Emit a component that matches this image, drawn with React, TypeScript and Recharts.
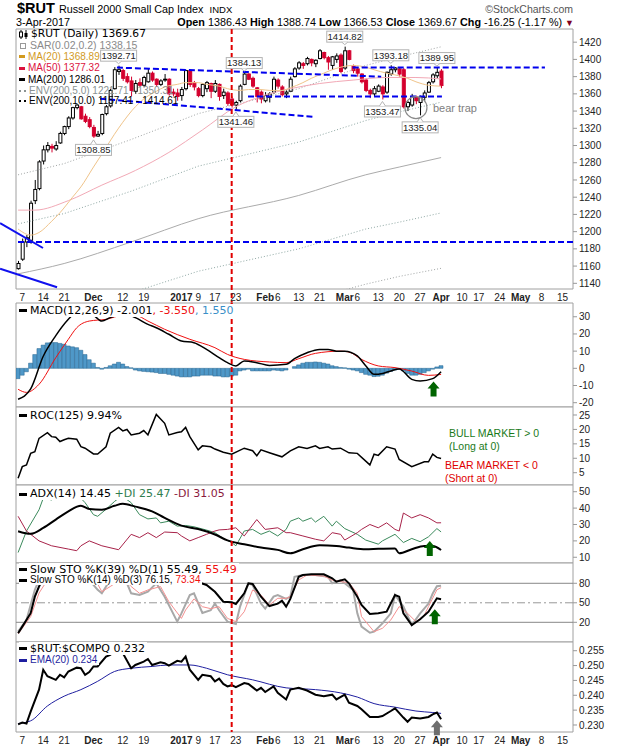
import React from 'react'
import {
  ComposedChart, Bar, Line, XAxis, YAxis,
  ReferenceLine, ReferenceArea, ReferenceDot,
} from 'recharts'

type Pt = [number, number]

// $RUT daily candles, 4-Nov-2016 .. 3-Apr-2017 (index = trading day)
const OPEN = [
  1157, 1168, 1188, 1190, 1236, 1250, 1282, 1295, 1299, 1296, 1303, 1314, 1322, 1332, 1344, 1345, 1334, 1330, 1321, 1311,
  1314, 1337, 1346, 1366, 1386, 1387, 1380, 1375, 1363, 1373, 1370, 1374, 1384, 1377, 1371, 1376, 1377, 1362, 1361, 1358,
  1366, 1387, 1373, 1366, 1358, 1366, 1372, 1363, 1371, 1358, 1361, 1354, 1347, 1352, 1371, 1383, 1378, 1367, 1362, 1352,
  1356, 1362, 1376, 1368, 1360, 1363, 1380, 1390, 1395, 1395, 1400, 1395, 1401, 1408, 1402, 1393, 1400, 1405, 1390, 1410,
  1392, 1389, 1383, 1376, 1364, 1360, 1363, 1368, 1362, 1383, 1388, 1389, 1388, 1345, 1347, 1356, 1350, 1356, 1362, 1374,
  1381, 1386.43,
]
const HIGH = [
  1166, 1192, 1196, 1236, 1260, 1283, 1300, 1304, 1302, 1305, 1316, 1323, 1334, 1345, 1348, 1346, 1337, 1333, 1324, 1317,
  1337, 1347, 1366, 1391, 1392.71, 1389, 1384, 1380, 1376, 1378, 1381, 1390, 1386, 1378, 1377, 1383, 1378, 1366, 1366, 1368,
  1388, 1388, 1375, 1368, 1372, 1375, 1373, 1376, 1372, 1366, 1363, 1357, 1352, 1371, 1384.13, 1384, 1380, 1368, 1364, 1362,
  1362, 1380, 1378, 1370, 1364, 1380, 1391, 1398, 1397, 1403, 1401, 1400, 1412, 1409, 1404, 1404, 1407, 1407, 1414.82, 1411,
  1394, 1390, 1384, 1378, 1366, 1369, 1371, 1370, 1386, 1393.18, 1391, 1391, 1390, 1352, 1360, 1358, 1358, 1364, 1375, 1384,
  1389.95, 1388.74,
]
const LOW = [
  1156, 1166, 1182, 1186, 1232, 1248, 1278, 1292, 1292, 1294, 1302, 1312, 1319, 1330, 1342, 1330, 1326, 1320, 1308.85, 1310,
  1312, 1335, 1344, 1365, 1382, 1375, 1372, 1357, 1360, 1368, 1368, 1373, 1374, 1368, 1369, 1374, 1358, 1357, 1352, 1352,
  1364, 1368, 1364, 1356, 1356, 1362, 1355, 1361, 1352, 1354, 1346, 1344, 1341.46, 1350, 1370, 1376, 1367, 1350, 1349, 1350,
  1350, 1360, 1366, 1357, 1355, 1362, 1379, 1388, 1389, 1393, 1392, 1391, 1400, 1400, 1388, 1388, 1396, 1384, 1388, 1399,
  1384, 1380, 1372, 1362, 1355, 1357, 1362, 1353.47, 1360, 1381, 1385, 1380, 1343, 1340, 1345, 1348, 1335.04, 1352, 1361, 1372,
  1378, 1366.53,
]
const CLOSE = [
  1163, 1188, 1193, 1233, 1249, 1281, 1295, 1300, 1297, 1300, 1314, 1322, 1332, 1344, 1347, 1331, 1328, 1322, 1311, 1313,
  1336, 1345, 1364, 1388, 1388, 1378, 1374, 1364, 1372, 1370, 1379, 1384, 1376, 1371, 1375, 1377, 1360, 1360, 1357, 1365,
  1387, 1371, 1368, 1358, 1371, 1373, 1363, 1372, 1357, 1362, 1349, 1347, 1350, 1369, 1383, 1377, 1369, 1357, 1354, 1358,
  1360, 1377, 1369, 1359, 1362, 1377, 1389, 1396, 1393, 1401, 1396, 1399, 1410, 1402, 1397, 1403, 1404, 1386, 1410, 1400,
  1387, 1384, 1374, 1364, 1360, 1366, 1369, 1360, 1385, 1388, 1390, 1383, 1345, 1350, 1357, 1352, 1356, 1361, 1373, 1382,
  1385, 1369.67,
]

// overlays read at intervals: [trading day, value]
const MA20: Pt[] = [[0, 1203], [3, 1196], [5, 1199], [8, 1212], [10, 1222], [13, 1240], [15, 1252], [18, 1275], [20, 1290], [23, 1313], [25, 1327], [28, 1345], [30, 1354], [33, 1363], [35, 1368], [38, 1371], [40, 1373], [43, 1373], [45, 1371], [48, 1369], [50, 1366], [53, 1364], [55, 1365], [58, 1365], [60, 1364], [63, 1364], [65, 1367], [68, 1373], [70, 1378], [73, 1384], [75, 1388], [78, 1392], [80, 1393], [83, 1391], [85, 1388], [88, 1384], [90, 1382], [93, 1378], [95, 1374], [98, 1370], [101, 1368.89]]
const MA50: Pt[] = [[0, 1225], [4, 1225], [12, 1236], [20, 1254], [28, 1271], [36, 1292], [44, 1318], [52, 1345], [58, 1357], [65, 1366], [72, 1372], [80, 1376], [88, 1379], [95, 1379], [101, 1377.32]]
const MA200: Pt[] = [[0, 1151], [11, 1163], [27, 1188], [43, 1215], [67, 1242], [83, 1266], [91, 1275], [101, 1286.01]]
const ENV5_UP: Pt[] = [[0, 1209], [11, 1221], [27, 1247], [43, 1276], [67, 1304], [83, 1329], [91, 1339], [101, 1350.31]]
const ENV5_LO: Pt[] = [[0, 1093], [11, 1105], [27, 1129], [43, 1154], [67, 1180], [83, 1203], [91, 1211], [101, 1221.71]]
const ENV10_UP: Pt[] = [[0, 1266], [11, 1279], [27, 1307], [43, 1337], [67, 1366], [83, 1393], [91, 1403], [101, 1414.61]]
const ENV10_LO: Pt[] = [[0, 1036], [11, 1047], [27, 1069], [43, 1094], [67, 1118], [83, 1139], [91, 1148], [101, 1157.41]]

const MACD: Pt[] = [[0, -18], [3, -12], [6, 7], [9, 19], [12, 28.5], [14, 33], [16, 34], [18, 31], [20, 27.5], [22, 29.5], [26, 31.4], [28, 29.5], [31, 25.6], [33, 23.6], [36, 19.8], [39, 15.9], [42, 14.9], [45, 11], [48, 6.2], [50, 3.3], [52, 1.4], [54, 4.3], [57, 3.3], [60, 1.7], [64, 2.3], [66, 5.6], [69, 9.1], [72, 11], [74, 11], [76, 10], [78, 10], [81, 7.2], [83, 1.5], [85, -3.5], [87, -3], [89, -1.5], [91, -0.4], [94, -6.4], [96, -7.4], [99, -6], [101, -2.001]]
const MACD_SIGNAL: Pt[] = [[0, -12.2], [2, -14], [5, -9.3], [9, 6.2], [12, 16.9], [14, 23.6], [17, 27.5], [21, 28.5], [25, 30.8], [28, 30.8], [31, 27.5], [35, 22.7], [41, 16.9], [47, 12], [50, 8.1], [54, 5.2], [60, 3.7], [64, 3.3], [67, 5.6], [71, 8.7], [77, 10], [79, 9.5], [82, 5.2], [86, 1.4], [90, 0.4], [94, -1.6], [98, -4.1], [101, -3.55]]
const MACD_HIST = [
  -6, -4, -2, 3, 8, 11.5, 13.5, 14.8, 15, 15, 14.5, 14, 13, 12.5, 12, 10.5, 8, 5, 3, 0.5,
  -0.5, 0.5, 1.5, 2.5, 3.5, 2.5, 1, 0.3, -1, -1.5, -1.8, -2, -2.2, -2.5, -3, -3, -3.5, -4, -4.5, -5,
  -5, -5, -4.5, -4.5, -4, -4, -4, -4.5, -4.5, -5, -5, -4.5, -4, -1.5, -1, -0.5, -1.5, -1.5, -1.5, -1.5,
  -1.5, -1, -1.2, -1.5, -1, 0, 1, 2, 3, 3.5, 3.5, 3.7, 3.5, 3, 2.5, 1.5, 1, 0.5, 0.3, -0.5,
  -1, -1.5, -2.5, -3.5, -4, -4.8, -4.6, -4, -2.8, -1.8, -1, -0.5, -1.5, -3, -4, -4, -3.5, -2.5, -1.5, -0.5,
  0.8, 1.55,
]

const ROC: Pt[] = [[0, 3.1], [1, 7.1], [2, 7.7], [3, 11.7], [4, 12.3], [5, 16.9], [7, 18.9], [8, 17.5], [9, 17.3], [10, 15.8], [11, 16.4], [12, 16.9], [14, 16.6], [15, 14], [16, 13.5], [18, 11.5], [19, 11.5], [21, 14], [22, 18.7], [24, 20.7], [25, 19.5], [26, 20], [27, 18.1], [29, 18.7], [30, 19.6], [31, 18.1], [33, 25.2], [35, 22.1], [36, 18.1], [38, 18.9], [39, 19.2], [40, 20.7], [41, 17.5], [43, 12.9], [44, 14.3], [46, 14], [47, 13.2], [49, 12.1], [51, 11.4], [54, 13.5], [56, 12.6], [57, 10.9], [58, 12.9], [60, 11.9], [63, 10.5], [65, 12.6], [67, 14], [69, 13.4], [71, 14.3], [72, 13.4], [74, 14], [75, 13.2], [77, 13.5], [79, 11.9], [81, 11.7], [84, 7.7], [85, 11.4], [86, 11], [88, 14], [90, 13.2], [91, 9.6], [94, 7.1], [97, 8.8], [98, 8.8], [99, 11.4], [100, 10.3], [101, 9.94]]

const ADX: Pt[] = [[0, 25.9], [3, 24.3], [6, 27.9], [9, 33], [12, 38], [15, 41.4], [17, 39.4], [20, 39], [23, 41.4], [25, 42.6], [28, 40.9], [32, 38], [35, 34], [39, 29.3], [43, 27.2], [47, 23.9], [50, 20.3], [54, 17.9], [58, 15.9], [62, 14.5], [65, 12.4], [68, 14.9], [72, 17.3], [76, 16.9], [79, 15.9], [83, 14.9], [86, 15.2], [90, 15.4], [91, 12.4], [94, 14.9], [97, 16.9], [99, 16.9], [101, 14.45]]
const PLUS_DI: Pt[] = [[0, 12.9], [2, 26], [5, 39], [6, 46], [8, 45], [9, 46.9], [11, 47.3], [13, 49], [15, 46], [16, 43.3], [18, 36], [19, 35], [21, 39.3], [23, 44], [24, 46], [25, 47], [27, 43.3], [29, 36], [31, 33.4], [33, 34], [34, 31], [36, 32], [38, 29], [40, 29.4], [42, 28.6], [45, 26.6], [47, 25], [49, 21.5], [51, 19], [52, 17], [54, 26], [56, 27], [58, 24], [60, 26], [62, 23], [64, 27], [65, 32], [67, 34], [68, 32], [70, 34], [71, 31.5], [73, 35], [75, 29], [76, 32], [78, 27.5], [81, 24], [83, 20.5], [86, 18], [87, 20], [90, 24], [92, 19], [94, 21.5], [96, 19.5], [98, 22.5], [100, 27.5], [101, 25.47]]
const MINUS_DI: Pt[] = [[0, 35], [2, 26], [5, 20], [8, 17], [12, 15], [14, 14], [15, 17], [17, 20], [20, 17], [24, 14.6], [27, 24], [29, 22], [31, 25], [33, 22], [35, 25.4], [38, 25], [39, 23], [41, 20], [43, 22], [45, 24], [47, 26], [48, 26.7], [50, 27], [52, 28], [54, 23], [57, 33], [59, 27], [62, 28], [64, 25], [65, 25], [68, 23], [71, 21], [73, 20], [75, 25], [77, 24], [78, 20.5], [81, 25], [82, 27], [84, 30], [86, 28], [88, 31], [90, 27], [91, 26], [92, 37], [94, 34], [96, 36], [98, 34], [100, 31], [101, 31.05]]

const STO_K39: Pt[] = [[0, 3.1], [1, 13.3], [3, 34], [4, 59.4], [5, 75], [6, 88], [8, 95], [12, 98], [20, 96], [30, 97], [38, 92], [42, 84], [45, 77.4], [47, 67], [49, 51.7], [51, 50.9], [52, 48.2], [54, 64.6], [55, 80], [56, 79], [58, 59.4], [60, 45], [62, 48.6], [63, 53.3], [64, 44], [65, 56], [67, 90], [68, 92.8], [70, 93.8], [73, 93.8], [75, 87.7], [76, 82.5], [78, 86], [79, 80], [81, 59.4], [82, 46.6], [84, 32.8], [86, 33.8], [88, 36.3], [90, 62], [91, 59.4], [92, 33.8], [94, 15.8], [96, 24.6], [98, 36.3], [99, 46.6], [100, 56.9], [101, 55.49]]
const STO_K14: Pt[] = [[0, 5.6], [2, 23.6], [4, 70], [5, 85], [7, 95], [10, 96], [14, 92], [17, 85], [19, 70], [20, 64.6], [22, 85], [24, 95], [26, 80], [27, 64.6], [29, 62], [31, 67], [33, 80], [35, 59.4], [38, 21], [39, 33.8], [41, 62], [42, 64.6], [44, 34.4], [46, 38.5], [47, 48.8], [48, 38.5], [50, 21], [52, 17.5], [53, 44.2], [55, 80], [56, 77.4], [58, 48.8], [59, 41], [61, 59.4], [62, 62], [64, 56], [65, 59.4], [66, 90], [68, 92.8], [71, 92.8], [74, 90], [75, 80], [77, 85], [78, 80], [80, 69.7], [81, 33.8], [82, 13.3], [84, 4], [85, 5.6], [87, 18.4], [89, 33.8], [90, 62], [92, 44.2], [94, 15.8], [96, 33.8], [98, 48.8], [99, 64.2], [100, 75.4], [101, 76.15]]
const STO_D3: Pt[] = [[0, 2], [3, 28.8], [5, 65], [7, 85], [10, 94], [14, 93], [18, 82], [19, 79], [20, 67], [22, 75], [25, 88], [27, 75], [29, 64.6], [31, 69.7], [34, 75], [36, 51.7], [39, 26], [40, 39], [42, 56], [44, 44], [46, 41], [48, 44], [50, 26], [52, 21], [54, 36.3], [56, 69.7], [58, 62], [60, 46.6], [62, 56.9], [64, 56.9], [65, 59.4], [67, 85], [69, 92.8], [73, 91], [75, 85], [77, 82.5], [79, 81], [81, 64.6], [82, 28.8], [85, 5.6], [87, 10.8], [89, 23.6], [91, 44.2], [93, 33.8], [95, 21], [97, 31], [98, 44.2], [100, 70], [101, 73.34]]

const RATIO: Pt[] = [[0, 0.2302], [1, 0.2308], [2, 0.2305], [3, 0.2345], [5, 0.2419], [6, 0.2486], [7, 0.2464], [9, 0.2452], [10, 0.2469], [11, 0.246], [12, 0.248], [14, 0.2493], [15, 0.2491], [16, 0.2469], [17, 0.2478], [18, 0.2497], [19, 0.2497], [21, 0.253], [22, 0.2536], [23, 0.2548], [24, 0.2546], [25, 0.2542], [27, 0.2491], [28, 0.2502], [30, 0.2513], [31, 0.2522], [32, 0.2502], [34, 0.2511], [35, 0.2508], [36, 0.25], [38, 0.2516], [39, 0.2513], [40, 0.253], [41, 0.2486], [43, 0.2452], [44, 0.2469], [46, 0.2464], [47, 0.2447], [48, 0.2456], [49, 0.2438], [50, 0.243], [51, 0.2434], [52, 0.2427], [54, 0.2441], [55, 0.2438], [57, 0.2416], [58, 0.2425], [59, 0.2411], [61, 0.243], [62, 0.2408], [64, 0.2386], [65, 0.2419], [67, 0.2425], [69, 0.2416], [71, 0.2402], [73, 0.2397], [75, 0.2402], [76, 0.2386], [78, 0.2402], [79, 0.2375], [81, 0.2364], [82, 0.2353], [84, 0.2327], [86, 0.2327], [87, 0.233], [89, 0.2347], [90, 0.2356], [92, 0.2325], [93, 0.2311], [94, 0.2325], [96, 0.2322], [98, 0.2327], [99, 0.2336], [100, 0.2342], [101, 0.2319]]
const RATIO_EMA: Pt[] = [[0, 0.2305], [3, 0.2314], [7, 0.2364], [11, 0.2397], [15, 0.2419], [19, 0.2447], [23, 0.248], [27, 0.2491], [32, 0.2497], [36, 0.2502], [41, 0.2502], [45, 0.2491], [50, 0.2469], [56, 0.2452], [64, 0.2425], [71, 0.2419], [77, 0.2408], [81, 0.2394], [85, 0.2372], [90, 0.236], [95, 0.2347], [99, 0.2342], [101, 0.2339]]

const X_TICKS = [
  { i: 1, label: '7' }, { i: 6, label: '14' }, { i: 11, label: '21' }, { i: 18, label: 'Dec', bold: true },
  { i: 25, label: '12' }, { i: 30, label: '19' }, { i: 39, label: '2017', bold: true }, { i: 43, label: '9' },
  { i: 47, label: '17' }, { i: 52, label: '23' }, { i: 59, label: 'Feb', bold: true }, { i: 62, label: '6' },
  { i: 67, label: '13' }, { i: 72, label: '21' }, { i: 78, label: 'Mar', bold: true }, { i: 81, label: '6' },
  { i: 86, label: '13' }, { i: 91, label: '20' }, { i: 96, label: '27' }, { i: 101, label: 'Apr', bold: true },
  { i: 106, label: '10' }, { i: 110, label: '17' }, { i: 115, label: '24' }, { i: 120, label: 'May', bold: true },
  { i: 125, label: '8' }, { i: 130, label: '15' },
]

const PRICE_TICKS = [1140, 1160, 1180, 1200, 1220, 1240, 1260, 1280, 1300, 1320, 1340, 1360, 1380, 1400, 1420]
const MACD_TICKS = [-20, -10, 0, 10, 20, 30]
const ROC_TICKS = [5, 10, 15, 20, 25]
const ADX_TICKS = [10, 20, 30, 40, 50]
const STO_TICKS = [20, 50, 80]
const RATIO_TICKS = [0.23, 0.235, 0.24, 0.245, 0.25, 0.255]

// labelled highs (up) and lows (down)
const PRICE_TAGS = [
  { i: 24, v: 1392.71, below: false }, { i: 18, v: 1308.85, below: true },
  { i: 54, v: 1384.13, below: false }, { i: 52, v: 1341.46, below: true },
  { i: 78, v: 1414.82, below: false }, { i: 89, v: 1393.18, below: false },
  { i: 87, v: 1353.47, below: true }, { i: 100, v: 1389.95, below: false },
  { i: 96, v: 1335.04, below: true },
]
// hand drawn trend lines: [[day, price], [day, price]]
const DASHED_LINES: Pt[][] = [
  [[23.6, 1390.5], [86.7, 1380]],
  [[19.6, 1354.4], [70.4, 1333.4]],
  [[54.9, 1357], [101.2, 1357]],
  [[79.9, 1390.5], [125.8, 1390.5]],
]
const SOLID_LINES: Pt[][] = [
  [[-4.3, 1210], [5.95, 1181]],
  [[-4.3, 1157], [9.3, 1135.5]],
]
const SUPPORT = 1188
const INAUGURATION = 51
const BEAR_TRAP: Pt = [95, 1344]

const W = 620
const X_DOMAIN: [number, number] = [-0.5, 132.5]
const DAYS = CLOSE.length
const SANS = '"Liberation Sans", Arial, sans-serif'
const DEJAVU = '"DejaVu Sans", Verdana, sans-serif'

function table(series: Record<string, Pt[]>, extra?: (i: number) => Record<string, number>) {
  const rows: any[] = Array.from({ length: DAYS }, (_, i) => ({ i, ...(extra ? extra(i) : {}) }))
  Object.entries(series).forEach(([key, pts]) => pts.forEach(([i, v]) => { rows[i][key] = v }))
  return rows
}

const priceData = table(
  { ma20: MA20, ma50: MA50, ma200: MA200, e5u: ENV5_UP, e5l: ENV5_LO, e10u: ENV10_UP, e10l: ENV10_LO },
  (i) => ({ o: OPEN[i], h: HIGH[i], l: LOW[i], c: CLOSE[i] }),
)
const macdData = table({ macd: MACD, sig: MACD_SIGNAL }, (i) => ({ hist: MACD_HIST[i] }))
const rocData = table({ roc: ROC })
const adxData = table({ adx: ADX, pdi: PLUS_DI, mdi: MINUS_DI })
const stoData = table({ k39: STO_K39, k14: STO_K14, d3: STO_D3 })
const ratioData = table({ r: RATIO, ema: RATIO_EMA })

const Candle = (p: any) => {
  const { x, y, width, height, payload: d } = p
  if (!d || !isFinite(y) || !isFinite(height)) return null
  const top = Math.min(y, y + height)
  const bot = Math.max(y, y + height)
  const k = (bot - top) / (d.h - d.l)
  const at = (v: number) => top + (d.h - v) * k
  const cx = x + width / 2
  const up = d.c >= d.o
  const col = up ? '#000' : '#d4002e'
  const y0 = at(Math.max(d.o, d.c))
  const y1 = at(Math.min(d.o, d.c))
  return (
    <g>
      <line x1={cx} x2={cx} y1={top} y2={bot} stroke={col} strokeWidth={1} />
      <rect x={cx - 1.5} y={y0} width={3} height={Math.max(y1 - y0, 0.8)} fill={up ? '#fff' : col} stroke={col} strokeWidth={1} />
    </g>
  )
}

const PriceTag = ({ cx, cy, text, below }: any) => {
  const w = 36
  const h = 11
  const by = below ? cy + 6.5 : cy - 15.5
  const edge = below ? by : by + h
  const tip = below ? cy + 2 : cy - 2
  return (
    <g>
      <rect x={cx - w / 2} y={by} width={w} height={h} fill="#fff" stroke="#b4b4b4" />
      <path d={`M${cx - 3},${edge} L${cx},${tip} L${cx + 3},${edge}`} fill="#fff" stroke="#b4b4b4" />
      <text x={cx} y={by + h - 2.2} textAnchor="middle" fontSize={9.5} fontFamily={SANS} fill="#222">{text}</text>
    </g>
  )
}

const UpArrow = ({ cx, cy, color }: any) => (
  <path
    d={`M${cx},${cy} L${cx + 6},${cy + 7} L${cx + 3},${cy + 7} L${cx + 3},${cy + 15} L${cx - 3},${cy + 15} L${cx - 3},${cy + 7} L${cx - 6},${cy + 7} Z`}
    fill={color}
  />
)

const XTick = (p: any) => {
  const t = X_TICKS.find((d) => d.i === p.payload?.value)
  if (!t) return null
  return (
    <text x={p.x} y={p.y + 12} textAnchor="middle" fontSize={10} fontWeight={t.bold ? 700 : 400} fill="#222" fontFamily={SANS}>
      {t.label}
    </text>
  )
}

function Panel({ top, plotH, axisH = 0, domain, yTicks, fmt, data, redExtend = 0, children }: any) {
  const redShape = (p: any) => {
    const a = Math.min(p.y1, p.y2)
    const b = Math.max(p.y1, p.y2) + redExtend
    return <line x1={p.x1} x2={p.x2} y1={a} y2={b} stroke="#e00000" strokeWidth={2} strokeDasharray="5 3" />
  }
  return (
    <div style={{ position: 'absolute', left: 0, top: top - 1 }}>
      <ComposedChart width={W} height={plotH + 1 + axisH} data={data} margin={{ top: 1, right: 0, bottom: 0, left: 16 }}>
        <XAxis
          type="number" dataKey="i" domain={X_DOMAIN} allowDataOverflow
          ticks={X_TICKS.map((t) => t.i)} interval={0} hide={!axisH} height={axisH}
          tickLine={false} axisLine={false} tickSize={0} tickMargin={0} tick={<XTick />}
        />
        <YAxis
          orientation="right" width={47} domain={domain} allowDataOverflow ticks={yTicks} interval={0}
          tickSize={4} tickLine={{ stroke: '#999' }} axisLine={false} tickFormatter={fmt}
          tick={{ fontSize: 10, fill: '#222', fontFamily: SANS }}
        />
        <ReferenceArea x1={X_DOMAIN[0]} x2={X_DOMAIN[1]} y1={domain[0]} y2={domain[1]} fill="none" stroke="#a0a0a0" />
        {children}
        <ReferenceLine x={INAUGURATION} stroke="#e00000" shape={redShape} />
      </ComposedChart>
    </div>
  )
}

const Dash = ({ color, w = 8 }: { color: string; w?: number }) => (
  <span style={{ display: 'inline-block', width: w, height: 3, background: color, verticalAlign: 'middle', marginRight: 3 }} />
)
const Dots = ({ color }: { color: string }) => (
  <span style={{ display: 'inline-block', width: 7, height: 0, borderTop: `2px dotted ${color}`, verticalAlign: 'middle', marginRight: 3 }} />
)

const legendLine = (top: number, left = 19): React.CSSProperties => ({
  position: 'absolute', left, top, height: 11, lineHeight: '11px', fontSize: 11, fontFamily: DEJAVU, whiteSpace: 'nowrap',
})
const priceLine = (top: number, color = '#000'): React.CSSProperties => ({
  ...legendLine(top), height: 10, lineHeight: '10px', fontFamily: SANS, fontSize: 10, color,
})
const opaque: React.CSSProperties = { background: '#fff', paddingRight: 2 }

export default function App() {
  return (
    <div style={{ position: 'absolute', left: 0, top: 0, width: W, height: 750, background: '#fff', overflow: 'hidden', fontFamily: SANS, color: '#000' }}>
      {/* header */}
      <div style={{ position: 'absolute', left: 17, top: 1, display: 'flex', alignItems: 'baseline', whiteSpace: 'nowrap', lineHeight: '15px' }}>
        <span style={{ fontSize: 14.5, fontWeight: 700 }}>$RUT</span>
        <span style={{ fontSize: 10.8, marginLeft: 4 }}>Russell 2000 Small Cap Index</span>
        <span style={{ fontSize: 9.5, marginLeft: 6 }}>INDX</span>
      </div>
      <div style={{ position: 'absolute', right: W - 573, top: 4, fontSize: 10.5, color: '#555', lineHeight: '11px' }}>©StockCharts.com</div>
      <div style={{ position: 'absolute', left: 16, top: 16.5, fontSize: 10.8, lineHeight: '11px' }}>3-Apr-2017</div>
      <div style={{ position: 'absolute', right: W - 574, top: 16.5, fontSize: 10.8, lineHeight: '11px', whiteSpace: 'nowrap' }}>
        <b>Open</b> 1386.43 <b>High</b> 1388.74 <b>Low</b> 1366.53 <b>Close</b> 1369.67 <b>Chg</b> -16.25 (-1.17 %) <span style={{ color: '#800020', fontSize: 9 }}>▼</span>
      </div>

      {/* price panel */}
      <Panel top={29} plotH={260} axisH={15} domain={[1133.4, 1435.3]} yTicks={PRICE_TICKS} data={priceData} redExtend={15}>
        <Line dataKey="e10u" stroke="#a0a4a4" strokeDasharray="1 2" dot={false} connectNulls isAnimationActive={false} />
        <Line dataKey="e10l" stroke="#a0a4a4" strokeDasharray="1 2" dot={false} connectNulls isAnimationActive={false} />
        <Line dataKey="e5u" stroke="#8fa8a4" strokeDasharray="1 2" dot={false} connectNulls isAnimationActive={false} />
        <Line dataKey="e5l" stroke="#8fa8a4" strokeDasharray="1 2" dot={false} connectNulls isAnimationActive={false} />
        <Line dataKey="ma200" type="monotone" stroke="#ababab" dot={false} connectNulls isAnimationActive={false} />
        <Line dataKey="ma50" type="monotone" stroke="#f2a9b6" dot={false} connectNulls isAnimationActive={false} />
        <Line dataKey="ma20" type="monotone" stroke="#f0c48a" dot={false} connectNulls isAnimationActive={false} />
        <Bar dataKey={(d: any) => [d.l, d.h]} barSize={3} shape={Candle} isAnimationActive={false} />
        <ReferenceLine y={SUPPORT} stroke="#0000ee" strokeWidth={2} strokeDasharray="6 3" />
        {DASHED_LINES.map((s, k) => (
          <ReferenceLine key={`d${k}`} segment={s.map(([x, y]) => ({ x, y }))} stroke="#0000ee" strokeWidth={2} strokeDasharray="6 3" ifOverflow="visible" />
        ))}
        {SOLID_LINES.map((s, k) => (
          <ReferenceLine key={`s${k}`} segment={s.map(([x, y]) => ({ x, y }))} stroke="#1010ee" strokeWidth={2} ifOverflow="visible" />
        ))}
        {PRICE_TAGS.map((t) => (
          <ReferenceDot
            key={t.v} x={t.i} y={t.v} r={1}
            shape={(p: any) => <PriceTag cx={p.cx} cy={p.cy} text={t.v.toFixed(2)} below={t.below} />}
          />
        ))}
        <ReferenceDot
          x={BEAR_TRAP[0]} y={BEAR_TRAP[1]} r={11}
          shape={(p: any) => (
            <g>
              <circle cx={p.cx} cy={p.cy} r={11} fill="none" stroke="#8a8a8a" strokeWidth={1.2} />
              <text x={p.cx + 17} y={p.cy + 4} fontSize={11} fontFamily={SANS} fill="#808080">bear trap</text>
            </g>
          )}
        />
      </Panel>

      {/* MACD */}
      <Panel top={303} plotH={104} domain={[-22.5, 38]} yTicks={MACD_TICKS} data={macdData}>
        <Bar dataKey="hist" barSize={4} fill="#4f98c8" stroke="#22628f" strokeWidth={0.5} isAnimationActive={false} />
        <Line dataKey="sig" type="monotone" stroke="#f01010" strokeWidth={1} dot={false} connectNulls isAnimationActive={false} />
        <Line dataKey="macd" type="monotone" stroke="#000" strokeWidth={1.5} dot={false} connectNulls isAnimationActive={false} />
        <ReferenceDot x={99.2} y={-7.6} r={1} shape={(p: any) => <UpArrow cx={p.cx} cy={p.cy} color="#006400" />} />
      </Panel>

      {/* ROC */}
      <Panel top={407} plotH={78} domain={[0.74, 27.77]} yTicks={ROC_TICKS} data={rocData}>
        <Line dataKey="roc" stroke="#000" strokeWidth={1.5} dot={false} connectNulls isAnimationActive={false} />
      </Panel>

      {/* ADX */}
      <Panel top={485} plotH={78} domain={[6.5, 54.1]} yTicks={ADX_TICKS} data={adxData}>
        <Line dataKey="pdi" stroke="#3b8a5c" strokeWidth={1} dot={false} connectNulls isAnimationActive={false} />
        <Line dataKey="mdi" stroke="#a8234a" strokeWidth={1} dot={false} connectNulls isAnimationActive={false} />
        <Line dataKey="adx" type="monotone" stroke="#000" strokeWidth={2} dot={false} connectNulls isAnimationActive={false} />
        <ReferenceDot x={98.3} y={19.9} r={1} shape={(p: any) => <UpArrow cx={p.cx} cy={p.cy} color="#006400" />} />
      </Panel>

      {/* Slow stochastics */}
      <Panel top={563} plotH={79} domain={[-10.3, 111.2]} yTicks={STO_TICKS} data={stoData}>
        <ReferenceLine y={80} stroke="#888" />
        <ReferenceLine y={20} stroke="#888" />
        <ReferenceLine y={50} stroke="#999" strokeDasharray="8 3 2 3" />
        <Line dataKey="k14" stroke="#a8a8a8" strokeWidth={2} dot={false} connectNulls isAnimationActive={false} />
        <Line dataKey="d3" stroke="#f49090" strokeWidth={1} dot={false} connectNulls isAnimationActive={false} />
        <Line dataKey="k39" stroke="#000" strokeWidth={2} dot={false} connectNulls isAnimationActive={false} />
        <ReferenceDot x={99.5} y={40} r={1} shape={(p: any) => <UpArrow cx={p.cx} cy={p.cy} color="#006400" />} />
      </Panel>

      {/* $RUT:$COMPQ */}
      <Panel top={642} plotH={90} axisH={18} domain={[0.22764, 0.25793]} yTicks={RATIO_TICKS} fmt={(v: number) => v.toFixed(3)} data={ratioData}>
        <Line dataKey="ema" type="monotone" stroke="#1f1fa0" strokeWidth={1} dot={false} connectNulls isAnimationActive={false} />
        <Line dataKey="r" stroke="#000" strokeWidth={2} dot={false} connectNulls isAnimationActive={false} />
        <ReferenceDot x={100} y={0.2316} r={1} shape={(p: any) => <UpArrow cx={p.cx} cy={p.cy} color="#6e6e6e" />} />
      </Panel>

      {/* price legend */}
      <div style={{ ...legendLine(29), height: 10, lineHeight: '10px', fontSize: 10.7 }}>
        <svg width={9} height={9} style={{ verticalAlign: 'middle', marginRight: 3 }}>
          <line x1={2} x2={2} y1={0} y2={9} stroke="#000" /><rect x={0.5} y={2} width={3} height={5} fill="#fff" stroke="#000" />
          <line x1={7} x2={7} y1={0} y2={9} stroke="#000" /><rect x={5.5} y={3} width={3} height={4} fill="#000" />
        </svg>
        $RUT (Daily) 1369.67
      </div>
      <div style={{ ...priceLine(39.5, '#8a8a8a'), fontSize: 10.5 }}>
        <span style={{ display: 'inline-block', width: 4, height: 4, border: '1px solid #999', verticalAlign: 'middle', margin: '0 4px 0 1px' }} />
        SAR(0.02,0.2) 1338.15
      </div>
      <div style={priceLine(51.5, '#d29a1e')}><Dash color="#d29a1e" w={6} />MA(20) 1368.89</div>
      <div style={priceLine(63, '#dc123e')}><Dash color="#dc123e" w={6} />MA(50) 1377.32</div>
      <div style={priceLine(74.5)}><Dash color="#000" w={6} />MA(200) 1286.01</div>
      <div style={priceLine(85.5, '#8a9292')}><Dots color="#8a9292" />ENV(200,5.0) 1221.71 - 1350.31</div>
      <div style={priceLine(95.5)}><Dots color="#000" />ENV(200,10.0) 1157.41 - 1414.61</div>

      {/* indicator legends */}
      <div style={legendLine(304.5)}>
        <span style={opaque}><Dash color="#000" />MACD(12,26,9) -2.001<span style={{ color: '#f01010' }}>, -3.550</span><span style={{ color: '#3a8fc8' }}>, 1.550</span></span>
      </div>
      <div style={legendLine(409.5)}><span style={opaque}><Dash color="#000" />ROC(125) 9.94%</span></div>
      <div style={legendLine(488)}>
        <span style={opaque}><Dash color="#000" />ADX(14) 14.45 <span style={{ color: '#2f7d4f' }}>+DI 25.47</span> <span style={{ color: '#8b1a3d' }}>-DI 31.05</span></span>
      </div>
      <div style={{ ...legendLine(564.5), height: 10, lineHeight: '10px' }}>
        <span style={opaque}><Dash color="#000" />Slow STO %K(39) %D(1) 55.49, <span style={{ color: '#f01010' }}>55.49</span></span>
      </div>
      <div style={{ ...legendLine(575), height: 10, lineHeight: '10px', fontFamily: SANS, fontSize: 10 }}>
        <span style={opaque}><Dash color="#000" />Slow STO %K(14) %D(3) 76.15, <span style={{ color: '#f01010' }}>73.34</span></span>
      </div>
      <div style={{ ...legendLine(643.5), height: 10, lineHeight: '10px' }}><span style={opaque}><Dash color="#000" />$RUT:$COMPQ 0.232</span></div>
      <div style={{ ...legendLine(655), height: 10, lineHeight: '10px', fontFamily: SANS, fontSize: 10, color: '#1f1fa0' }}>
        <span style={opaque}><Dash color="#1f1fa0" />EMA(20) 0.234</span>
      </div>

      {/* ROC notes */}
      <div style={{ position: 'absolute', left: 449, top: 427, fontSize: 10.5, lineHeight: '13.4px', color: '#1a7a1a', whiteSpace: 'nowrap' }}>
        BULL MARKET &gt; 0<br />(Long at 0)
      </div>
      <div style={{ position: 'absolute', left: 445, top: 459, fontSize: 10.5, lineHeight: '13.4px', color: '#e00000', whiteSpace: 'nowrap' }}>
        BEAR MARKET &lt; 0<br />(Short at 0)
      </div>
    </div>
  )
}
